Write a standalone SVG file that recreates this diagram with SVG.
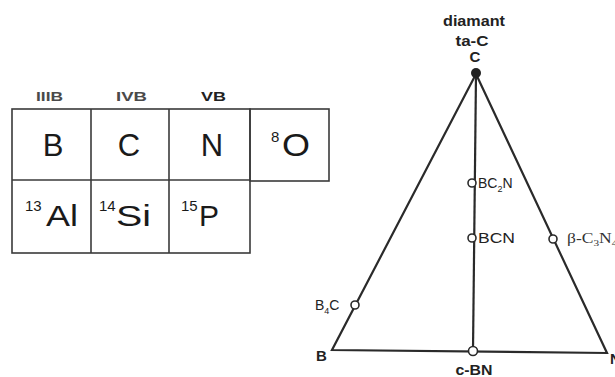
<svg xmlns="http://www.w3.org/2000/svg" width="615" height="377" viewBox="0 0 615 377">
<style>
.grid{fill:none;stroke:#3a3a3a;stroke-width:1.6}
.el{font-family:"Liberation Sans",Arial,sans-serif;font-size:31px;fill:#1a1a1a}
.el2{font-family:"Liberation Sans",Arial,sans-serif;font-size:30px;fill:#1a1a1a}
.sup{font-family:"Liberation Sans",Arial,sans-serif;font-size:15px;fill:#1a1a1a}
.hdr{font-family:"Liberation Sans",Arial,sans-serif;font-size:12px;font-weight:bold}
.tri{fill:none;stroke:#2a2a2a;stroke-width:2.2;stroke-linejoin:miter}
.pt{fill:#fff;stroke:#2a2a2a;stroke-width:1.6}
.lbl{font-family:"Liberation Sans",Arial,sans-serif;font-size:15px;font-weight:bold;fill:#222}
.top{font-family:"Liberation Sans",Arial,sans-serif;font-size:15px;font-weight:bold;fill:#222;text-anchor:middle}
.cmp{font-family:"Liberation Sans",Arial,sans-serif;font-size:14px;fill:#222}
.cmps{font-family:"Liberation Serif","Times New Roman",serif;font-size:14px;fill:#333}
</style>
<g id="table">
  <rect class="grid" x="12" y="109" width="238" height="144"/>
  <rect class="grid" x="250" y="109" width="79" height="72"/>
  <line class="grid" x1="91" y1="109" x2="91" y2="253"/>
  <line class="grid" x1="169" y1="109" x2="169" y2="253"/>
  <line class="grid" x1="12" y1="180" x2="250" y2="180"/>
</g>
<g id="headers">
  <text class="hdr" x="36" y="101" fill="#4a4a4a" textLength="27" lengthAdjust="spacingAndGlyphs">IIIB</text>
  <text class="hdr" x="116" y="101" fill="#4a4a4a" textLength="31" lengthAdjust="spacingAndGlyphs">IVB</text>
  <text class="hdr" x="201" y="101" fill="#222" textLength="25" lengthAdjust="spacingAndGlyphs">VB</text>
</g>
<g id="cell-B"><text class="el" x="53" y="156" text-anchor="middle">B</text></g>
<g id="cell-C"><text class="el" x="129" y="156" text-anchor="middle">C</text></g>
<g id="cell-N"><text class="el" x="212" y="156" text-anchor="middle">N</text></g>
<g id="cell-O"><text class="sup" x="271" y="142">8</text><text class="el" x="282" y="156" textLength="28" lengthAdjust="spacingAndGlyphs">O</text></g>
<g id="cell-Al"><text class="sup" x="25" y="211">13</text><text class="el2" x="46" y="226" textLength="32" lengthAdjust="spacingAndGlyphs">Al</text></g>
<g id="cell-Si"><text class="sup" x="99" y="211">14</text><text class="el2" x="116" y="226" textLength="35" lengthAdjust="spacingAndGlyphs">Si</text></g>
<g id="cell-P"><text class="sup" x="181" y="211">15</text><text class="el2" x="199" y="226">P</text></g>
<g id="connectors">
  <polygon class="tri" points="476,74 332,350 607,353"/>
  <line class="tri" x1="476" y1="74" x2="473" y2="351"/>
</g>
<g id="node-C">
  <circle cx="476" cy="73" r="5" fill="#222"/>
  <text class="top" x="474" y="26" textLength="62" lengthAdjust="spacingAndGlyphs">diamant</text>
  <text class="top" x="472" y="46" textLength="33" lengthAdjust="spacingAndGlyphs">ta-C</text>
  <text class="top" x="475" y="62">C</text>
</g>
<g id="node-B"><text class="lbl" x="316" y="361">B</text></g>
<g id="node-N"><text class="lbl" x="610" y="364">N</text></g>
<g id="node-cBN">
  <circle class="pt" cx="473" cy="351" r="4.5"/>
  <text class="lbl" x="474" y="375" text-anchor="middle" textLength="37" lengthAdjust="spacingAndGlyphs">c-BN</text>
</g>
<g id="node-B4C">
  <circle class="pt" cx="355" cy="305" r="4"/>
  <text class="cmp" x="315" y="310" font-size="15">B<tspan font-size="9" dy="4">4</tspan><tspan dy="-4">C</tspan></text>
</g>
<g id="node-BC2N">
  <circle class="pt" cx="472" cy="183" r="4"/>
  <text class="cmp" x="478" y="188">BC<tspan font-size="9" dy="4">2</tspan><tspan dy="-4">N</tspan></text>
</g>
<g id="node-BCN">
  <circle class="pt" cx="472" cy="238" r="4"/>
  <text class="cmp" x="478" y="243" textLength="37" lengthAdjust="spacingAndGlyphs">BCN</text>
</g>
<g id="node-C3N4">
  <circle class="pt" cx="553" cy="239" r="4"/>
  <text class="cmps" transform="translate(567,243) scale(1.25,1)" x="0" y="0">β-C<tspan font-size="9" dy="3">3</tspan><tspan dy="-3">N</tspan><tspan font-size="9" dy="3">4</tspan></text>
</g>
</svg>
